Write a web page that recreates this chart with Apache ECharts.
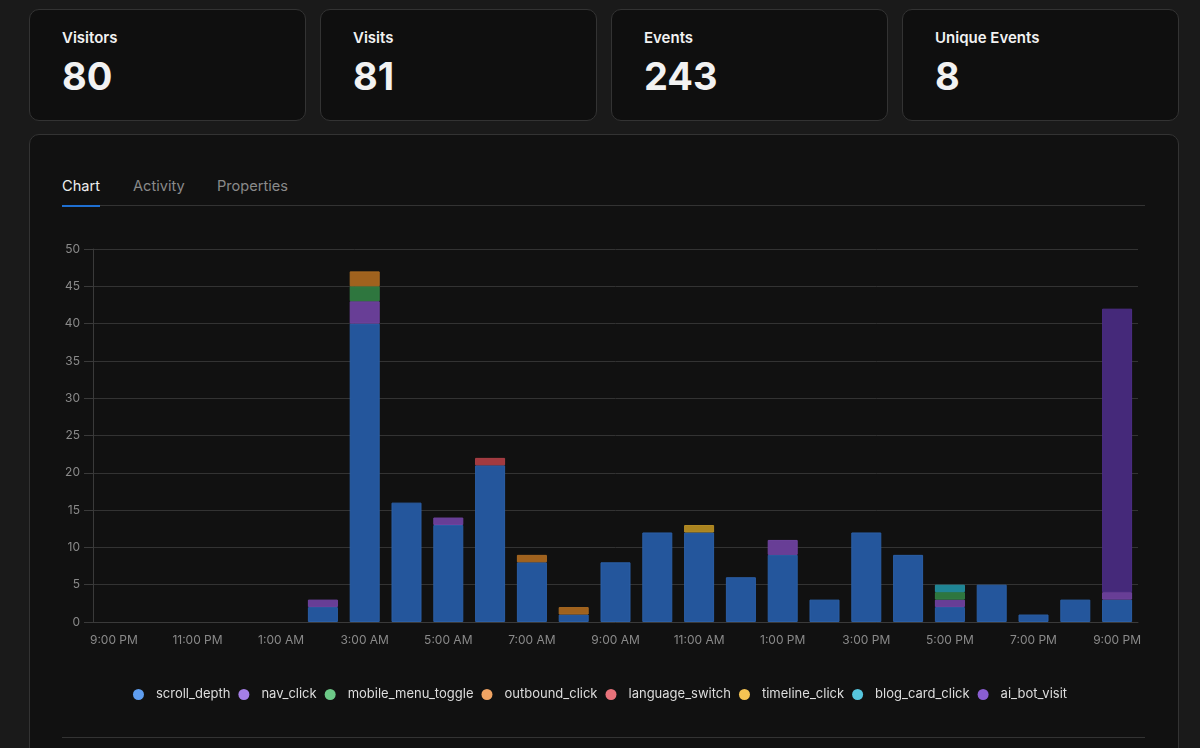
<!DOCTYPE html>
<html>
<head>
<meta charset="utf-8">
<script src="https://cdn.jsdelivr.net/npm/echarts@6/dist/echarts.min.js"></script>
<style>
  html, body { margin:0; padding:0; width:1200px; height:748px; overflow:hidden; background:#1a1a1a; font-family: Inter, "Noto Sans", sans-serif; }
  .card { position:absolute; top:9px; width:277px; height:112px; background:#0f0f0f; border:1px solid #333; border-radius:10px; box-sizing:border-box; }
  .card .lbl { position:absolute; left:32px; top:18px; font-size:15px; line-height:20px; font-weight:600; color:#f2f2f2; }
  .card .num { position:absolute; left:32px; top:44px; font-size:38px; line-height:44px; font-weight:700; color:#f2f2f2; }
  #panel { position:absolute; left:29px; top:134px; width:1150px; height:640px; background:#111; border:1px solid #333; border-radius:10px; box-sizing:border-box; }
  .tab { position:absolute; top:176px; font-size:14.6px; line-height:20px; color:#8a8a8a; }
  #chart { position:absolute; left:0; top:0; width:1200px; height:748px; }
</style>
</head>
<body>
<div class="card" style="left:29px"><div class="lbl">Visitors</div><div class="num">80</div></div>
<div class="card" style="left:320px"><div class="lbl">Visits</div><div class="num">81</div></div>
<div class="card" style="left:611px"><div class="lbl">Events</div><div class="num">243</div></div>
<div class="card" style="left:902px"><div class="lbl">Unique Events</div><div class="num">8</div></div>
<div id="panel"></div>
<div class="tab" style="left:62px;color:#eeeeee">Chart</div>
<div class="tab" style="left:133px">Activity</div>
<div class="tab" style="left:217px">Properties</div>
<div style="position:absolute;left:62px;top:205px;width:1083px;height:1px;background:#333"></div>
<div style="position:absolute;left:62px;top:205px;width:38px;height:2px;background:#1f6fd1"></div>
<div style="position:absolute;left:62px;top:737px;width:1083px;height:1px;background:#333"></div>
<div id="chart"></div>
<script>
const hours = ['9:00 PM','10:00 PM','11:00 PM','12:00 AM','1:00 AM','2:00 AM','3:00 AM','4:00 AM','5:00 AM','6:00 AM','7:00 AM','8:00 AM','9:00 AM','10:00 AM','11:00 AM','12:00 PM','1:00 PM','2:00 PM','3:00 PM','4:00 PM','5:00 PM','6:00 PM','7:00 PM','8:00 PM','9:00 PM'];
const scrollDepth      = [0,0,0,0,0,2,40,16,13,21,8,1,8,12,12,6,9,3,12,9,2,5,1,3,3];
const navClick         = [0,0,0,0,0,1,3,0,1,0,0,0,0,0,0,0,2,0,0,0,1,0,0,0,1];
const mobileMenuToggle = [0,0,0,0,0,0,2,0,0,0,0,0,0,0,0,0,0,0,0,0,1,0,0,0,0];
const outboundClick    = [0,0,0,0,0,0,2,0,0,0,1,1,0,0,0,0,0,0,0,0,0,0,0,0,0];
const languageSwitch   = [0,0,0,0,0,0,0,0,0,1,0,0,0,0,0,0,0,0,0,0,0,0,0,0,0];
const timelineClick    = [0,0,0,0,0,0,0,0,0,0,0,0,0,0,1,0,0,0,0,0,0,0,0,0,0];
const blogCardClick    = [0,0,0,0,0,0,0,0,0,0,0,0,0,0,0,0,0,0,0,0,1,0,0,0,0];
const aiBotVisit       = [0,0,0,0,0,0,0,0,0,0,0,0,0,0,0,0,0,0,0,0,0,0,0,0,38];

const seriesDefs = [
  { name:'scroll_depth',       data:scrollDepth,      bar:'#24569c', border:'#2b5fa6', legend:'#5f9ef0' },
  { name:'nav_click',          data:navClick,         bar:'#683e96', border:'#7044a0', legend:'#a57fe6' },
  { name:'mobile_menu_toggle', data:mobileMenuToggle, bar:'#2e763e', border:'#347f45', legend:'#6cc987' },
  { name:'outbound_click',     data:outboundClick,    bar:'#a0621e', border:'#a96a23', legend:'#f0a463' },
  { name:'language_switch',    data:languageSwitch,   bar:'#a23a40', border:'#ab4047', legend:'#e8727a' },
  { name:'timeline_click',     data:timelineClick,    bar:'#aa8420', border:'#b48c25', legend:'#f6c453' },
  { name:'blog_card_click',    data:blogCardClick,    bar:'#1f8595', border:'#258e9e', legend:'#56c6de' },
  { name:'ai_bot_visit',       data:aiBotVisit,       bar:'#45297a', border:'#4d2e86', legend:'#8a5ed2' }
];

const chart = echarts.init(document.getElementById('chart'), null, { renderer:'canvas' });
chart.setOption({
  animation:false,
  backgroundColor:'transparent',
  textStyle:{ fontFamily:'Inter, "Noto Sans", sans-serif' },
  grid:{ left:93, right:62, top:249, bottom:126, containLabel:false },
  legend:{
    top:683, left:'center', icon:'circle', itemWidth:25, itemHeight:11, itemGap:8,
    textStyle:{ color:'#dddddd', fontSize:13, fontFamily:'Inter, "Noto Sans", sans-serif' },
    data: seriesDefs.map(s => ({ name:s.name, itemStyle:{ color:s.legend, borderWidth:0 } }))
  },
  xAxis:{
    type:'category', data:hours,
    axisLine:{ show:true, lineStyle:{ color:'#3a3a3a' } },
    axisTick:{ show:false },
    axisLabel:{ interval:1, color:'#8a8a8a', fontSize:12, margin:12 },
    splitLine:{ show:false }
  },
  yAxis:{
    type:'value', min:0, max:50, interval:5,
    axisLine:{ show:true, lineStyle:{ color:'#3a3a3a' } },
    axisTick:{ show:true, length:9, lineStyle:{ color:'#3a3a3a' } },
    axisLabel:{ color:'#8a8a8a', fontSize:12, margin:13 },
    splitLine:{ show:true, lineStyle:{ color:'#333333' } }
  },
  series: seriesDefs.map(s => ({
    name:s.name, type:'bar', stack:'total', barWidth:30,
    data:s.data.map(v => v === 0 ? '-' : v),
    itemStyle:{ color:s.bar, borderColor:s.border, borderWidth:1 },
    emphasis:{ disabled:true }
  }))
});
</script>
</body>
</html>
